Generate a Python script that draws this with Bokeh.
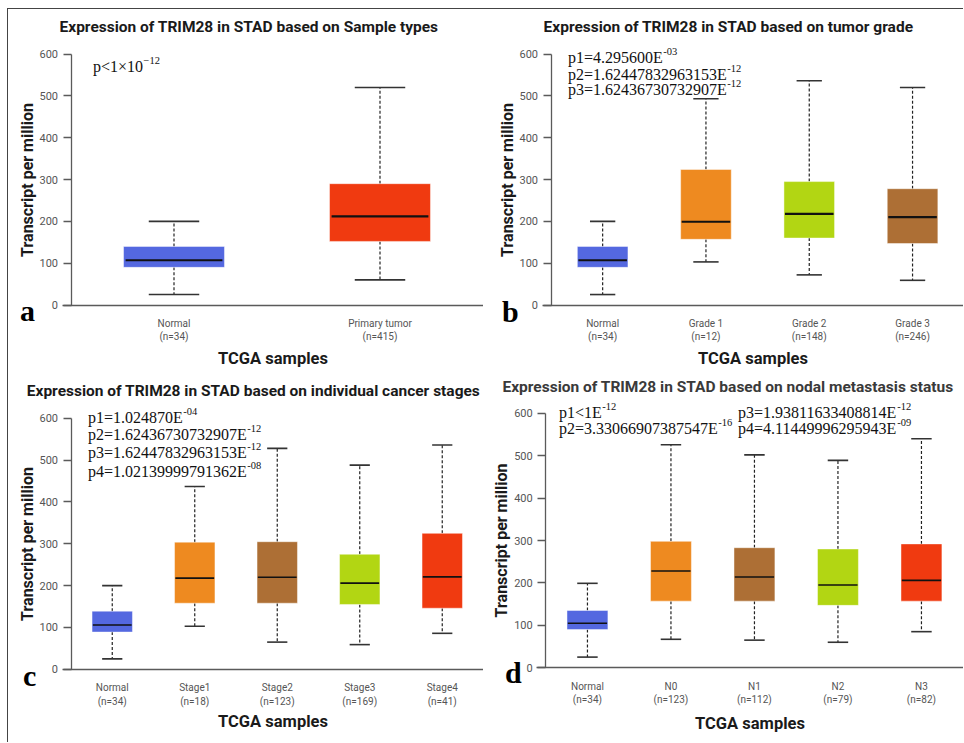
import numpy as np
from bokeh.plotting import figure
from bokeh.models import Range1d, FixedTicker, Label, LinearAxis
from bokeh.layouts import row, column
from bokeh.embed import file_html
from bokeh.resources import INLINE

# ---------------- data ----------------
A_CATS = ["Normal", "Primary tumor"]
A_N = [34, 415]
A_UPPER = [200, 520]
A_Q3 = [140, 290]
A_MED = [107, 212]
A_Q1 = [90, 152]
A_LOWER = [25, 60]

B_CATS = ["Normal", "Grade 1", "Grade 2", "Grade 3"]
B_N = [34, 12, 148, 246]
B_UPPER = [200, 493, 536, 520]
B_Q3 = [140, 324, 295, 278]
B_MED = [107, 199, 218, 210]
B_Q1 = [90, 157, 160, 147]
B_LOWER = [25, 103, 72, 59]

C_CATS = ["Normal", "Stage1", "Stage2", "Stage3", "Stage4"]
C_N = [34, 18, 123, 169, 41]
C_UPPER = [200, 437, 528, 488, 536]
C_Q3 = [139, 304, 305, 275, 325]
C_MED = [106, 218, 220, 206, 221]
C_Q1 = [89, 158, 158, 155, 146]
C_LOWER = [25, 103, 65, 59, 86]

D_CATS = ["Normal", "N0", "N1", "N2", "N3"]
D_N = [34, 123, 112, 79, 82]
D_UPPER = [199, 526, 502, 489, 540]
D_Q3 = [135, 298, 283, 280, 292]
D_MED = [105, 228, 214, 195, 206]
D_Q1 = [90, 157, 157, 147, 157]
D_LOWER = [25, 67, 65, 60, 85]

A_P = [("p<1×10", "−12")]
B_P = [("p1=4.295600E", "-03"), ("p2=1.62447832963153E", "-12"),
       ("p3=1.62436730732907E", "-12")]
C_P = [("p1=1.024870E", "-04"), ("p2=1.62436730732907E", "-12"),
       ("p3=1.62447832963153E", "-12"), ("p4=1.02139999791362E", "-08")]
D_P = [("p1<1E", "-12"), ("p2=3.33066907387547E", "-16"),
       ("p3=1.93811633408814E", "-12"), ("p4=4.11449996295943E", "-09")]

Y_TICKS = [0, 100, 200, 300, 400, 500, 600]

# ---------------- style ----------------
BLUE = "#5468E0"
RED = "#F03A10"
ORANGE = "#EE8A20"
BROWN = "#AD6F35"
GREEN = "#B2D613"
AXIS = "#5a5a5a"
TICKC = "#555555"

TIMES_W = {'p': 500, '=': 564, '.': 250, 'E': 611, '<': 564, '×': 564,
           '−': 564, '-': 333}


def text_w(s, size):
    return sum(TIMES_W.get(ch, 500) for ch in s) * size / 1000.0


def make_panel(title, cats, ns, upper, q3, med, q1, lower, colors,
               ptexts, letter, geo):
    W, H, ox, oy = geo["size"]
    x0p, sx = geo["xmap"]          # page x of x=-0.5, px per category
    y0p, y6p = geo["ymap"]         # page y of value 0 and 600
    sy = (y0p - y6p) / 600.0

    def dx(px):
        return -0.5 + (px - x0p) / sx

    def dy(py):
        return (y0p - py) / sy

    p = figure(width=W, height=H, output_backend="svg",
               toolbar_location=None, x_axis_type=None, y_axis_type=None,
               x_range=Range1d(dx(ox), dx(ox + W)),
               y_range=Range1d(dy(oy + H), dy(oy)), min_border=0)
    p.outline_line_color = None
    p.background_fill_color = "white"
    p.border_fill_color = "white"

    x = np.arange(len(cats), dtype=float)
    bw = 0.49
    cw = 0.245
    p.segment(x, np.array(q3), x, np.array(upper), line_color="#222222",
              line_width=1.2, line_dash="3 2")
    p.segment(x, np.array(q1), x, np.array(lower), line_color="#222222",
              line_width=1.2, line_dash="3 2")
    p.segment(x - cw / 2, np.array(upper), x + cw / 2, np.array(upper),
              line_color="#333333", line_width=1.6)
    p.segment(x - cw / 2, np.array(lower), x + cw / 2, np.array(lower),
              line_color="#333333", line_width=1.6)
    p.vbar(x=x, width=bw, top=q3, bottom=q1, fill_color=colors,
           line_color="white", line_alpha=0.45, line_width=1)
    p.segment(x - bw / 2 + 0.01, np.array(med), x + bw / 2 - 0.01,
              np.array(med), line_color="#111111", line_width=geo["med_w"])

    # y axis at x=-0.5
    yax = LinearAxis(fixed_location=-0.5, bounds=(0, 600),
                     ticker=FixedTicker(ticks=Y_TICKS))
    yax.minor_tick_line_color = None
    yax.major_tick_out = 8
    yax.major_tick_in = 0
    yax.major_tick_line_color = AXIS
    yax.major_tick_line_width = 1.3
    yax.major_label_standoff = 5
    yax.major_label_text_font = "Roboto"
    yax.major_label_text_font_size = "11px"
    yax.major_label_text_color = TICKC
    yax.axis_label = "Transcript per million"
    yax.axis_label_text_font = "Roboto"
    yax.axis_label_text_font_style = "bold"
    yax.axis_label_text_font_size = "16px"
    yax.axis_label_text_color = "#1a1a1a"
    yax.axis_label_standoff = 0
    yax.axis_line_color = AXIS
    yax.axis_line_width = 1.3
    p.add_layout(yax, "left")

    # x axis at y=0
    xax = LinearAxis(fixed_location=0,
                     bounds=(dx(x0p - 9), geo["xbound"]),
                     ticker=FixedTicker(ticks=list(x)))
    xax.major_label_overrides = {
        float(i): f"{c}\n(n={n})" for i, (c, n) in enumerate(zip(cats, ns))}
    xax.major_tick_line_color = None
    xax.minor_tick_line_color = None
    xax.major_label_standoff = 7
    xax.major_label_text_font = "Roboto"
    xax.major_label_text_font_size = "10px"
    xax.major_label_text_color = TICKC
    xax.axis_label = "TCGA samples"
    xax.axis_label_text_font = "Roboto"
    xax.axis_label_text_font_style = "bold"
    xax.axis_label_text_font_size = "16.5px"
    xax.axis_label_text_color = "#1a1a1a"
    xax.axis_label_standoff = geo["xlab_standoff"]
    xax.axis_line_color = AXIS
    xax.axis_line_width = 1.3
    p.add_layout(xax, "below")

    # title
    tx, ty = geo["title"]
    p.add_layout(Label(x=dx(tx), y=dy(ty), text=title, text_font="Roboto",
                       text_font_style="bold", text_font_size="15.5px",
                       text_color=geo["title_color"], text_align="center",
                       text_baseline="middle"))

    # p-value texts with superscripts
    raise_units = 6.0 / sy
    for (main, sup), (px, py) in zip(ptexts, geo["ppos"]):
        p.add_layout(Label(x=dx(px), y=dy(py), text=main,
                           text_font="Liberation Serif",
                           text_font_size="16px", text_color="#111111",
                           text_baseline="alphabetic", text_align="left"))
        p.add_layout(Label(x=dx(px), y=dy(py) + raise_units, text=sup,
                           x_offset=text_w(main, 16) + 0.5,
                           text_font="Liberation Serif",
                           text_font_size="10.5px", text_color="#111111",
                           text_baseline="alphabetic", text_align="left"))
    # panel letter
    lx, ly = geo["letter"]
    p.add_layout(Label(x=dx(lx), y=dy(ly), text=letter,
                       text_font="Liberation Serif", text_font_style="bold",
                       text_font_size="30px", text_color="#000000",
                       text_baseline="alphabetic", text_align="left"))
    return p


GEO_A = dict(size=(475, 361, 8.5, 9.5), xmap=(71, 206), ymap=(305, 54),
             xbound=1.5, title=(249, 27), title_color="#1a1a1a",
             ppos=[(93, 66)], letter=(20, 310), med_w=2.2, xlab_standoff=3)
GEO_B = dict(size=(480, 361, 483.5, 9.5), xmap=(551, 103.3), ymap=(305, 54),
             xbound=3.6, title=(728.5, 27), title_color="#1a1a1a",
             ppos=[(568, 57.3), (568, 74), (568, 89)], letter=(502, 311),
             med_w=2.2, xlab_standoff=3)
GEO_C = dict(size=(475, 372, 8.5, 370.5), xmap=(71, 82.5),
             ymap=(669.3, 418.3), xbound=4.5, title=(253.5, 391),
             title_color="#1a1a1a",
             ppos=[(88, 417), (88, 434), (88, 452.7), (88, 471)],
             letter=(23, 675), med_w=1.6, xlab_standoff=2)
GEO_D = dict(size=(480, 372, 483.5, 370.5), xmap=(545.7, 83.5),
             ymap=(667.7, 413.3), xbound=4.6, title=(728, 387),
             title_color="#3a3a3a",
             ppos=[(559, 412.7), (559, 428.3), (738, 412.7), (738, 428.3)],
             letter=(505, 672.7), med_w=1.6, xlab_standoff=6)

pa = make_panel("Expression of TRIM28 in STAD based on Sample types",
                A_CATS, A_N, A_UPPER, A_Q3, A_MED, A_Q1, A_LOWER,
                [BLUE, RED], A_P, "a", GEO_A)
pb = make_panel("Expression of TRIM28 in STAD based on tumor grade",
                B_CATS, B_N, B_UPPER, B_Q3, B_MED, B_Q1, B_LOWER,
                [BLUE, ORANGE, GREEN, BROWN], B_P, "b", GEO_B)
pc = make_panel("Expression of TRIM28 in STAD based on individual cancer stages",
                C_CATS, C_N, C_UPPER, C_Q3, C_MED, C_Q1, C_LOWER,
                [BLUE, ORANGE, BROWN, GREEN, RED], C_P, "c", GEO_C)
pd_ = make_panel("Expression of TRIM28 in STAD based on nodal metastasis status",
                 D_CATS, D_N, D_UPPER, D_Q3, D_MED, D_Q1, D_LOWER,
                 [BLUE, ORANGE, BROWN, GREEN, RED], D_P, "d", GEO_D)

layout = column(row(pa, pb), row(pc, pd_), margin=(8, 0, 0, 7),
                styles={"border-top": "1.5px solid #444",
                        "border-left": "1.5px solid #444"})

open("out.html", "w").write(file_html(layout, INLINE))
